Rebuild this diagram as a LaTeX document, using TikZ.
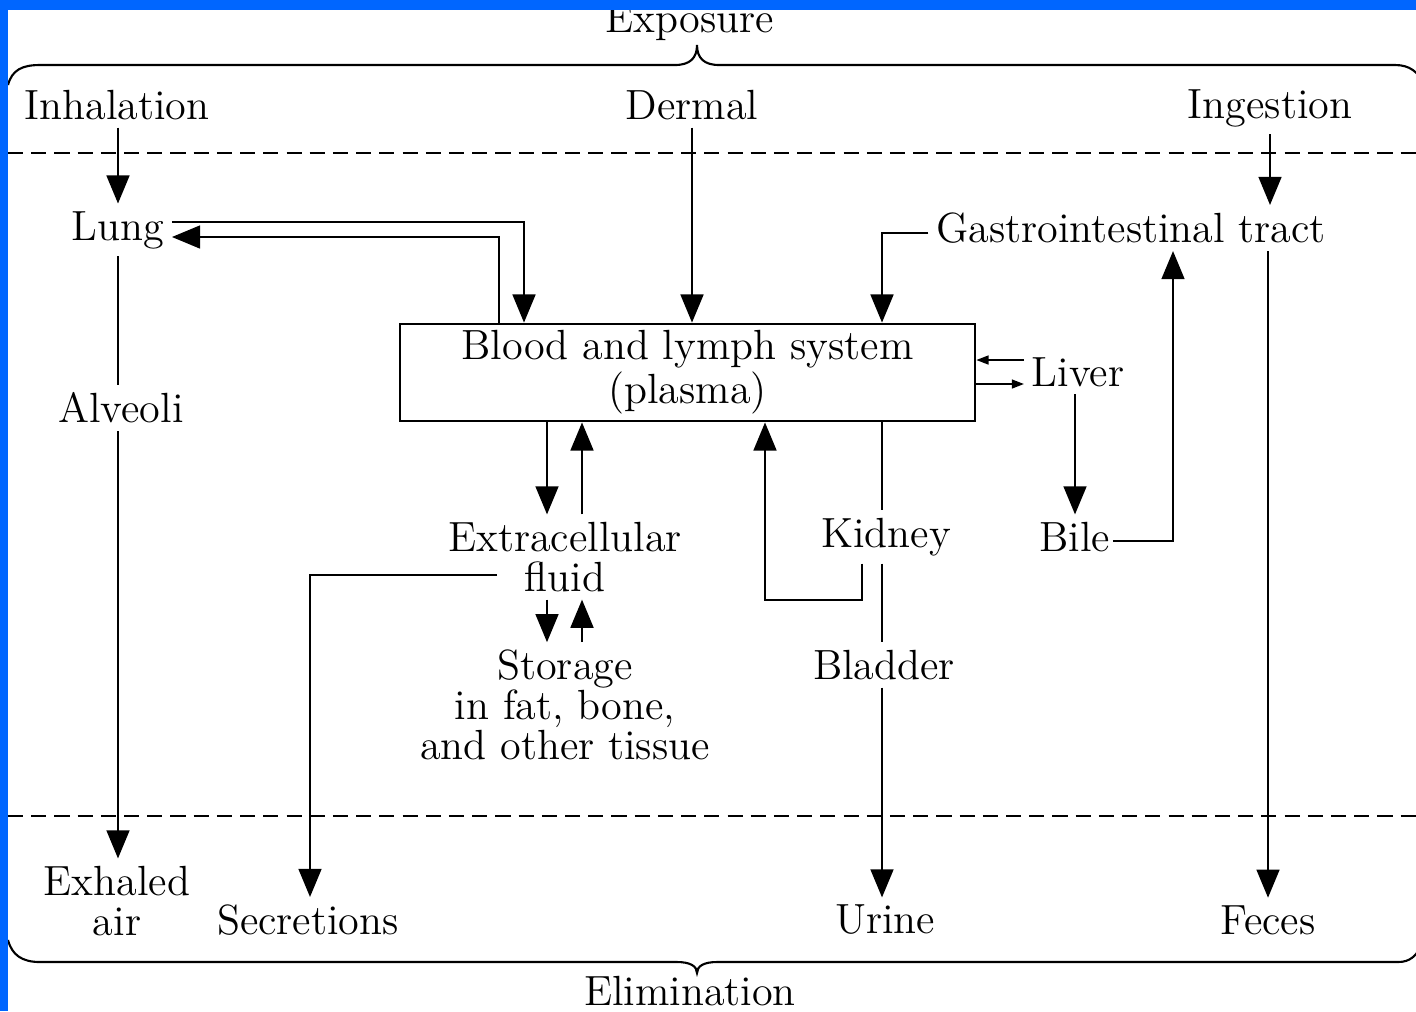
\documentclass[tikz,border=0pt]{standalone}
\usepackage{tikz}
\usetikzlibrary{arrows.meta}
\definecolor{bandblue}{RGB}{0,102,255}

\begin{document}
\begin{tikzpicture}[x = 0.01cm, y = -0.01cm]
\tikzstyle{LabelStyle}=[inner sep = 2pt,
                        align = center,
                        font = \fontsize{12}{11.38}\selectfont]
\tikzstyle{LinkStyle}=[line width = 0.6pt]
\tikzstyle{FlowStyle}=[LinkStyle, -{Triangle[length = 8pt, width = 6.5pt]}]
\tikzstyle{SmallFlow}=[LinkStyle, -{Triangle[length = 3.5pt, width = 2.5pt]}]
\tikzstyle{BorderStyle}=[LinkStyle, dash pattern = on 4.3pt off 2.3pt]
\useasboundingbox (0,0) rectangle (1416,1011);
\clip (0,0) rectangle (1416,1011);
\fill[white] (0,0) rectangle (1416,1011);
\node[LabelStyle] (expo) at (690,22) {Exposure};
\node[LabelStyle, inner sep = 0pt] (elim) at (690,991) {Elimination};
\node[LabelStyle] (inh) at (117,105) {Inhalation};
\node[LabelStyle] (derm) at (692,105) {Dermal};
\node[LabelStyle] (ing) at (1270,108) {Ingestion};
\node[LabelStyle] (lung) at (118,230) {Lung};
\node[LabelStyle] (gi) at (1131,228) {Gastrointestinal tract};
\node[LabelStyle, draw, line width = 0.6pt, minimum width = 5.75cm, minimum height = 0.91cm] (blood) at (687.5,372.5) {Blood and lymph system\\(plasma)};
\node[LabelStyle] (liver) at (1078,372) {Liver};
\node[LabelStyle] (bile) at (1075,537) {Bile};
\node[LabelStyle] (alv) at (121,408) {Alveoli};
\node[LabelStyle] (ecf) at (565,557) {Extracellular\\fluid};
\node[LabelStyle] (stor) at (565,705) {Storage\\in fat, bone,\\and other tissue};
\node[LabelStyle] (kid) at (886,537) {Kidney};
\node[LabelStyle] (blad) at (884,665) {Bladder};
\node[LabelStyle] (exh) at (117,901) {Exhaled\\air};
\node[LabelStyle] (secr) at (308,920) {Secretions};
\node[LabelStyle] (urine) at (885,920) {Urine};
\node[LabelStyle] (feces) at (1268,920) {Feces};
\coordinate (ecfout) at (497,575);
\draw[LinkStyle] (8,85) .. controls (12,70) and (22,65) .. (40,65) -- (675,65) .. controls (690,65) and (697,58) .. (697,45) .. controls (697,58) and (704,65) .. (719,65) -- (1395,65) .. controls (1410,65) and (1418,72) .. (1425,85);
\draw[LinkStyle] (8,940) .. controls (12,955) and (22,962) .. (40,962) -- (677,962) .. controls (690,962) and (697,966) .. (697,973) .. controls (697,966) and (704,962) .. (717,962) -- (1398,962) .. controls (1410,962) and (1416,956) .. (1422,945);
\draw[BorderStyle] (8,153) -- (1416,153);
\draw[BorderStyle] (8,816) -- (1416,816);
\draw[FlowStyle] (lung |- inh.south) -- (lung);
\draw[FlowStyle] (derm) -- (derm |- blood.north);
\draw[FlowStyle] (ing) -- (ing |- gi.north);
\draw[FlowStyle] (lung.east |- 0,222) -| (blood.north -| 524,0);
\draw[FlowStyle] (blood.north -| 499,0) |- (lung.east |- 0,237);
\draw[FlowStyle] (gi.west |- 0,233) -| (blood.north -| 882,0);
\draw[SmallFlow] (liver.west |- 0,360) -- (blood.east |- 0,360);
\draw[SmallFlow] (blood.east |- 0,384) -- (liver.west |- 0,384);
\draw[FlowStyle] (bile |- liver.south) -- (bile);
\draw[FlowStyle] ([xshift = -1.5pt]bile.east |- 0,541) -| (gi.south -| 1173,0);
\draw[FlowStyle] (gi.south -| feces) -- (feces);
\draw[FlowStyle] (blood.south -| 547,0) -- (ecf.north -| 547,0);
\draw[FlowStyle] (ecf.north -| 582,0) -- (blood.south -| 582,0);
\draw[FlowStyle] (ecf.south -| 547,0) -- (stor.north -| 547,0);
\draw[FlowStyle] (stor.north -| 582,0) -- (ecf.south -| 582,0);
\draw[FlowStyle] (ecfout) -| (secr.north -| 310,0);
\draw[LinkStyle] (blood.south -| 882,0) -- (kid.north -| 882,0);
\draw[LinkStyle] (kid.south -| 882,0) -- (blad.north -| 882,0);
\draw[FlowStyle] (blad.south -| 882,0) -- (urine.north -| 882,0);
\draw[FlowStyle] (kid.south -| 862,0) -- ++(0,36) -| (blood.south -| 765,0);
\draw[LinkStyle] (lung) -- (alv.north -| lung);
\draw[FlowStyle] (alv.south -| lung) -- (exh.north -| lung);
\fill[bandblue] (0,0) rectangle (1416,10);
\fill[bandblue] (0,0) rectangle (8,1011);
\end{tikzpicture}
\end{document}
